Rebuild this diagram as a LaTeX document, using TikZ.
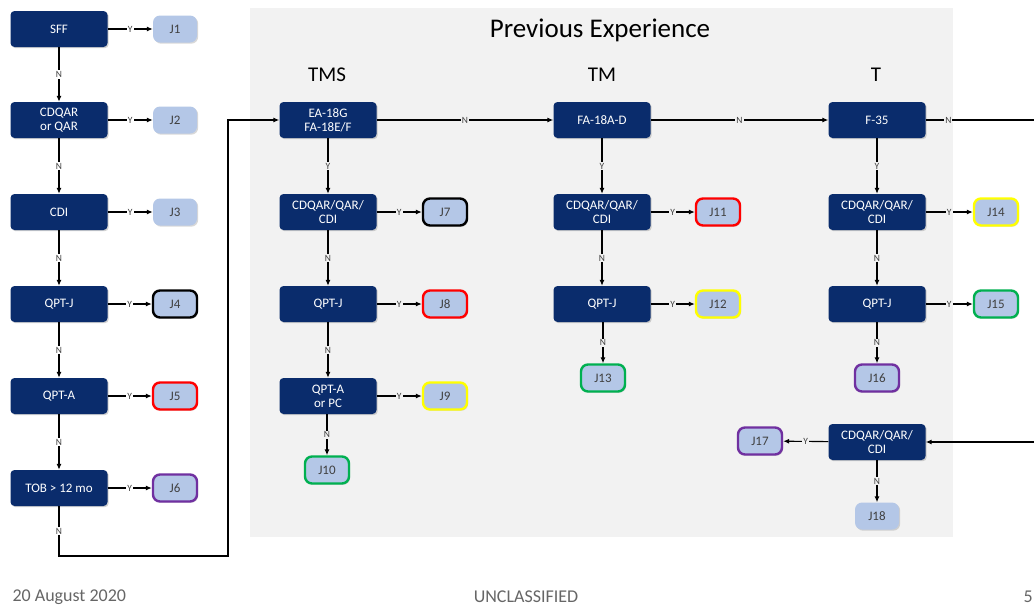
\documentclass[tikz,border=0pt]{standalone}
\usepackage{fontspec}
\setmainfont{Carlito}
\usetikzlibrary{arrows.meta,shadows}
\definecolor{navy}{RGB}{10,44,108}
\definecolor{jblue}{RGB}{180,199,231}
\definecolor{panel}{RGB}{242,242,242}
\definecolor{tgray}{RGB}{64,64,64}
\definecolor{jred}{RGB}{255,0,0}
\definecolor{jyel}{RGB}{255,255,0}
\definecolor{jgrn}{RGB}{0,176,80}
\definecolor{jpur}{RGB}{112,48,160}
\tikzset{
  dbox/.style={rectangle,rounded corners=4pt,fill=navy,text=white,minimum width=97pt,minimum height=36pt,align=center,inner sep=1pt,font=\fontsize{13}{14}\selectfont,drop shadow={shadow xshift=1.2pt,shadow yshift=-1.2pt,opacity=0.35}},
  jbox/.style={rectangle,rounded corners=7pt,fill=jblue,text=tgray,minimum width=44pt,minimum height=27pt,inner sep=1pt,font=\fontsize{13}{14}\selectfont,drop shadow={shadow xshift=1.2pt,shadow yshift=-1.2pt,opacity=0.3}},
  jk/.style={jbox,draw=black,line width=2.4pt},
  jr/.style={jbox,draw=jred,line width=2.4pt},
  jy/.style={jbox,draw=jyel,line width=2.4pt},
  jg/.style={jbox,draw=jgrn,line width=2.4pt},
  jp/.style={jbox,draw=jpur,line width=2.4pt},
  arr/.style={draw=black,line width=1.1pt,-{Latex[length=6pt,width=5pt]}},
  lw/.style={fill=white,text=tgray,inner sep=1pt,font=\fontsize{9.5}{10}\selectfont},
  lg/.style={fill=panel,text=tgray,inner sep=1pt,font=\fontsize{9.5}{10}\selectfont},
  colhead/.style={text=black,font=\fontsize{21}{24}\selectfont},
  foot/.style={text=tgray!80,font=\fontsize{18}{20}\selectfont},
}
\begin{document}
\begin{tikzpicture}[x=1pt,y=-1pt]
\useasboundingbox (0,0) rectangle (1034,606);
\clip (0,0) rectangle (1034,606);
\fill[white] (0,0) rectangle (1034,606);
\fill[panel] (250,8) rectangle (953,537);
\node[font=\fontsize{27}{30}\selectfont,text=black] (title) at (600,30) {Previous Experience};
\node[colhead] (tms) at (327,75) {TMS};
\node[colhead] (tm) at (602,75) {TM};
\node[colhead] (t) at (876,75) {T};
% left column
\node[dbox] (sff) at (59,29) {SFF};
\node[dbox] (cdq) at (59,120) {CDQAR\\or QAR};
\node[dbox] (cdi) at (59,212) {CDI};
\node[dbox] (qptj) at (59,304) {QPT-J};
\node[dbox] (qpta) at (59,396) {QPT-A};
\node[dbox] (tob) at (59,488) {TOB {>} 12 mo};
\node[jbox] (j1) at (175,29) {J1};
\node[jbox] (j2) at (175,120) {J2};
\node[jbox] (j3) at (175,212) {J3};
\node[jk] (j4) at (175,304) {J4};
\node[jr] (j5) at (175,396) {J5};
\node[jp] (j6) at (175,488) {J6};
% TMS column
\node[dbox] (ea) at (328,120) {EA-18G\\FA-18E/F};
\node[dbox] (tmsc) at (328,212) {CDQAR/QAR/\\CDI};
\node[dbox] (tmsj) at (328,304) {QPT-J};
\node[dbox] (tmsa) at (328,396) {QPT-A\\or PC};
\node[jk] (j7) at (445,212) {J7};
\node[jr] (j8) at (445,304) {J8};
\node[jy] (j9) at (445,396) {J9};
\node[jg] (j10) at (327,470) {J10};
% TM column
\node[dbox] (fa) at (602,120) {FA-18A-D};
\node[dbox] (tmc) at (602,212) {CDQAR/QAR/\\CDI};
\node[dbox] (tmj) at (602,304) {QPT-J};
\node[jr] (j11) at (718,212) {J11};
\node[jy] (j12) at (718,304) {J12};
\node[jg] (j13) at (603,378) {J13};
% T column
\node[dbox] (f35) at (877,120) {F-35};
\node[dbox] (tc) at (877,212) {CDQAR/QAR/\\CDI};
\node[dbox] (tj) at (877,304) {QPT-J};
\node[jy] (j14) at (996,212) {J14};
\node[jg] (j15) at (996,304) {J15};
\node[jp] (j16) at (877,378) {J16};
\node[dbox] (bc) at (877,442) {CDQAR/QAR/\\CDI};
\node[jp] (j17) at (760,441) {J17};
\node[jbox] (j18) at (877,516) {J18};
% left edges
\draw[arr] (sff) -- node[lw]{Y} (j1);
\draw[arr] (cdq) -- node[lw]{Y} (j2);
\draw[arr] (cdi) -- node[lw]{Y} (j3);
\draw[arr] (qptj) -- node[lw]{Y} (j4);
\draw[arr] (qpta) -- node[lw]{Y} (j5);
\draw[arr] (tob) -- node[lw]{Y} (j6);
\draw[arr] (sff) -- node[lw]{N} (cdq);
\draw[arr] (cdq) -- node[lw]{N} (cdi);
\draw[arr] (cdi) -- node[lw]{N} (qptj);
\draw[arr] (qptj) -- node[lw]{N} (qpta);
\draw[arr] (qpta) -- node[lw]{N} (tob);
\coordinate (c1) at (59,556);
\coordinate (c2) at (228,556);
\draw[arr] (tob) -- node[lw]{N} (c1) -- (c2) |- (ea);
% TMS edges
\draw[arr] (ea) -- node[lg]{Y} (tmsc);
\draw[arr] (tmsc) -- node[lg]{N} (tmsj);
\draw[arr] (tmsj) -- node[lg]{N} (tmsa);
\draw[arr] (tmsa.south -| j10.north) -- node[lg]{N} (j10);
\draw[arr] (tmsc) -- node[lg]{Y} (j7);
\draw[arr] (tmsj) -- node[lg]{Y} (j8);
\draw[arr] (tmsa) -- node[lg]{Y} (j9);
\draw[arr] (ea) -- node[lg]{N} (fa);
% TM edges
\draw[arr] (fa) -- node[lg]{Y} (tmc);
\draw[arr] (tmc) -- node[lg]{N} (tmj);
\draw[arr] (tmj.south -| j13.north) -- node[lg]{N} (j13);
\draw[arr] (tmc) -- node[lg]{Y} (j11);
\draw[arr] (tmj) -- node[lg]{Y} (j12);
\draw[arr] (fa) -- node[lg]{N} (f35);
% T edges
\draw[arr] (f35) -- node[lg]{Y} (tc);
\draw[arr] (tc) -- node[lg]{N} (tj);
\draw[arr] (tj) -- node[lg]{N} (j16);
\draw[arr] (tc) -- node[lg]{Y} (j14);
\draw[arr] (tj) -- node[lg]{Y} (j15);
\coordinate (r1) at (1045,120);
\coordinate (r2) at (1045,442);
\draw[arr] (f35) -- node[lg,pos=0.19]{N} (r1) -- (r2) -- (bc);
\draw[arr] (bc) -- node[lg]{Y} (j17);
\draw[arr] (bc) -- node[lg]{N} (j18);
% footer
\node[foot,anchor=west] (date) at (9,597) {20 August 2020};
\node[foot] (uncl) at (526,597) {UNCLASSIFIED};
\node[foot,anchor=east,inner sep=1pt] (pg) at (1034,597) {5};
\end{tikzpicture}
\end{document}
